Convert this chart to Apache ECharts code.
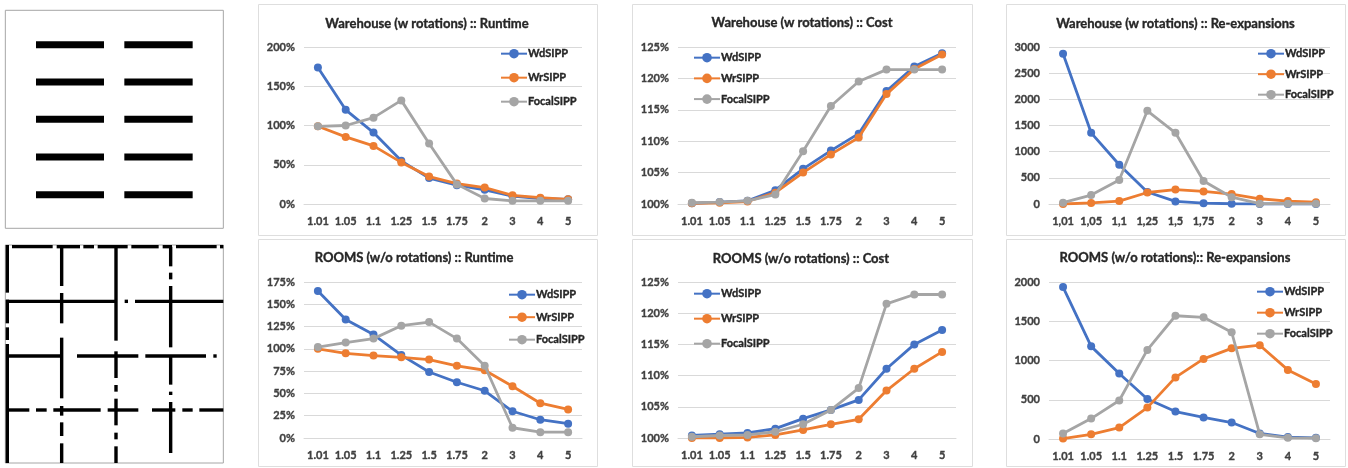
<!DOCTYPE html>
<html><head><meta charset="utf-8">
<style>html,body{margin:0;padding:0;background:#fff}#c{width:1348px;height:468px}</style>
<script src="https://cdn.jsdelivr.net/npm/echarts@6/dist/echarts.min.js"></script>
</head><body><div id="c"></div>
<script>
const catsDot = ['1.01','1.05','1.1','1.25','1.5','1.75','2','3','4','5'];
const catsComma = ['1,01','1,05','1,1','1,25','1,5','1,75','2','3','4','5'];

const whRuntimeWd = [174,120,91,55,33,24,18,10,7,6];
const whRuntimeWr = [99,85.5,74,53,35,26,21,11,8,6];
const whRuntimeFo = [99,100,110,132,77,25,7,4,4,4];
const rmRuntimeWd = [165,133,116,93,74,62.5,53,30,20.5,16];
const rmRuntimeWr = [100,95,92.5,90.5,88,81,76,58,39,32];
const rmRuntimeFo = [102,107,111.5,126,130,111.5,81,11.5,6.5,6.5];
const whCostWd = [100.1,100.3,100.5,102.2,105.6,108.5,111.2,118,121.9,124];
const whCostWr = [100.1,100.2,100.4,101.8,105,107.9,110.6,117.5,121.5,123.8];
const whCostFo = [100.2,100.3,100.5,101.5,108.4,115.6,119.5,121.4,121.4,121.4];
const rmCostWd = [100.4,100.6,100.8,101.5,103.1,104.5,106.1,111.1,115,117.3];
const rmCostWr = [100,100,100.1,100.5,101.3,102.2,103,107.6,111.1,113.8];
const rmCostFo = [100.2,100.4,100.5,101,102.2,104.5,108,121.5,123,123];
const whReexpWd = [2870,1360,750,230,50,15,5,0,0,0];
const whReexpWr = [0,20,55,220,275,240,190,100,55,35];
const whReexpFo = [25,170,460,1780,1360,440,130,5,5,5];
const rmReexpWd = [1935,1180,835,510,350,275,210,70,25,15];
const rmReexpWr = [5,60,145,400,785,1020,1155,1195,880,700];
const rmReexpFo = [70,260,490,1135,1570,1550,1360,60,15,10];

// map obstacles, in map units
const whColumns = [[108,312],[373,578]];
const whRows = [134,246,358,471,584];
const rmH = [
 [38,[36,158],[170,240],[250,282],[293,383],[394,476],[488,516],[528,650],[660,670]],
 [202,[18,348],[374,384],[405,670]],
 [366,[18,185],[231,415],[436,618],[640,650]],
 [528,[22,88],[108,140],[160,302],[323,415],[456,526],[547,578],[598,670]]
];
const rmV = [
 [22,[33,176],[197,268],[280,318],[330,687]],
 [185,[38,156],[177,268],[311,493],[516,545],[565,606],[628,687]],
 [348,[38,320],[352,432],[453,473],[494,574],[596,616],[637,687]],
 [512,[38,97],[116,136],[156,340],[366,452],[473,483],[504,657]]
];

const FONT = 'Lato';
const INK = '#262626', TICK = '#404040', GRID = '#d9d9d9';
const COLORS = {WdSIPP:'#4472C4',WrSIPP:'#ED7D31',FocalSIPP:'#A5A5A5'};

const charts = [
 {title:'Warehouse (w rotations) :: Runtime',cx:427,ty:24,panel:[258,4,339,231],g:[304,47,278,157],cats:catsDot,min:0,max:200,iv:50,pct:1,d:[whRuntimeWd,whRuntimeWr,whRuntimeFo],lg:[500,54,24]},
 {title:'ROOMS (w/o rotations) :: Runtime',cx:414,ty:258,panel:[258,239,339,227],g:[304,282,278,156],cats:catsDot,min:0,max:175,iv:25,pct:1,d:[rmRuntimeWd,rmRuntimeWr,rmRuntimeFo],lg:[508,295,22.5]},
 {title:'Warehouse (w rotations) :: Cost',cx:802,ty:23,panel:[632,4,340,231],g:[678,47,278,157],cats:catsDot,min:100,max:125,iv:5,pct:1,d:[whCostWd,whCostWr,whCostFo],lg:[693,58,20.7]},
 {title:'ROOMS (w/o rotations) :: Cost',cx:801,ty:259,panel:[632,239,340,227],g:[678,282,278,156],cats:catsDot,min:100,max:125,iv:5,pct:1,d:[rmCostWd,rmCostWr,rmCostFo],lg:[693,294,25]},
 {title:'Warehouse (w rotations) :: Re-expansions',cx:1175.5,ty:24,panel:[1006,4,339,231],g:[1049,47,281,157],cats:catsComma,min:0,max:3000,iv:500,pct:0,d:[whReexpWd,whReexpWr,whReexpFo],lg:[1257,54,20.5]},
 {title:'ROOMS (w/o rotations):: Re-expansions',cx:1175,ty:258,panel:[1006,239,339,227],g:[1049,282,281,157],cats:catsDot,min:0,max:2000,iv:500,pct:0,d:[rmReexpWd,rmReexpWr,rmReexpFo],lg:[1256,292,21]}
];
const names = ['WdSIPP','WrSIPP','FocalSIPP'];

const option = {animation:false,backgroundColor:'#fff',textStyle:{fontFamily:FONT},
 title:[],legend:[],grid:[],xAxis:[],yAxis:[],series:[],graphic:[]};
const bold = (color,size)=>({fontFamily:FONT,fontSize:size,fontWeight:'bold',color:color,textBorderColor:color,textBorderWidth:0.35});

charts.forEach((c,i)=>{
 option.graphic.push({type:'rect',silent:true,z:-1,shape:{x:c.panel[0]+.5,y:c.panel[1]+.5,width:c.panel[2],height:c.panel[3]},style:{fill:'#fff',stroke:'#dedede',lineWidth:1}});
 option.title.push({text:c.title,left:c.cx,top:c.ty,padding:0,textAlign:'center',textVerticalAlign:'middle',textStyle:bold(INK,13)});
 option.grid.push({left:c.g[0],top:c.g[1],width:c.g[2],height:c.g[3],containLabel:false});
 option.xAxis.push({gridIndex:i,type:'category',data:c.cats,boundaryGap:true,axisTick:{show:false},axisLine:{lineStyle:{color:GRID,width:1}},axisLabel:Object.assign({interval:0,margin:12},bold(TICK,11))});
 option.yAxis.push({gridIndex:i,type:'value',min:c.min,max:c.max,interval:c.iv,axisLine:{show:false},axisTick:{show:false},splitLine:{lineStyle:{color:GRID,width:1}},axisLabel:Object.assign({margin:9,formatter:c.pct?(v=>v+'%'):(v=>String(v))},bold(TICK,11))});
 names.forEach((n,k)=>{
  option.series.push({name:n,type:'line',xAxisIndex:i,yAxisIndex:i,data:c.d[k],symbol:'circle',symbolSize:8,lineStyle:{width:2.8,color:COLORS[n]},itemStyle:{color:COLORS[n]},z:2+k,silent:true});
  option.legend.push({show:true,orient:'vertical',left:c.lg[0],top:c.lg[1]+c.lg[2]*k-6,itemWidth:26,itemHeight:12,itemGap:0,padding:0,selectedMode:false,data:[n],textStyle:Object.assign(bold(INK,11),{padding:[0,0,0,-4]})});
 });
});

// the two map pictures on the left
const whSegs = [];
whRows.forEach(y=>whColumns.forEach(s=>whSegs.push([s[0],y,s[1],y])));
const rmSegs = [];
rmH.forEach(r=>r.slice(1).forEach(s=>rmSegs.push([s[0],r[0],s[1],r[0]])));
rmV.forEach(r=>r.slice(1).forEach(s=>rmSegs.push([r[0],s[0],r[0],s[1]])));
const addMap = (top,y0,segs,w)=>{
 const i = option.grid.length;
 option.grid.push({left:5.33,top:top,width:218,height:218,show:true,borderColor:'#a6a6a6',borderWidth:1,backgroundColor:'#fff'});
 option.xAxis.push({gridIndex:i,type:'value',min:16,max:670,show:false});
 option.yAxis.push({gridIndex:i,type:'value',min:y0,max:y0+654,inverse:true,show:false});
 option.series.push({type:'custom',xAxisIndex:i,yAxisIndex:i,silent:true,clip:true,data:segs,
  renderItem:(p,api)=>{const a=api.coord([api.value(0),api.value(1)]),b=api.coord([api.value(2),api.value(3)]);
   return {type:'line',shape:{x1:a[0],y1:a[1],x2:b[0],y2:b[1]},style:{stroke:'#000',lineWidth:w,lineCap:'butt'}};}});
};
addMap(10.3,31,whSegs,7);
addMap(245,33,rmSegs,3.4);

const chart = echarts.init(document.getElementById('c'),null,{renderer:'canvas'});
chart.setOption(option);
</script></body></html>
